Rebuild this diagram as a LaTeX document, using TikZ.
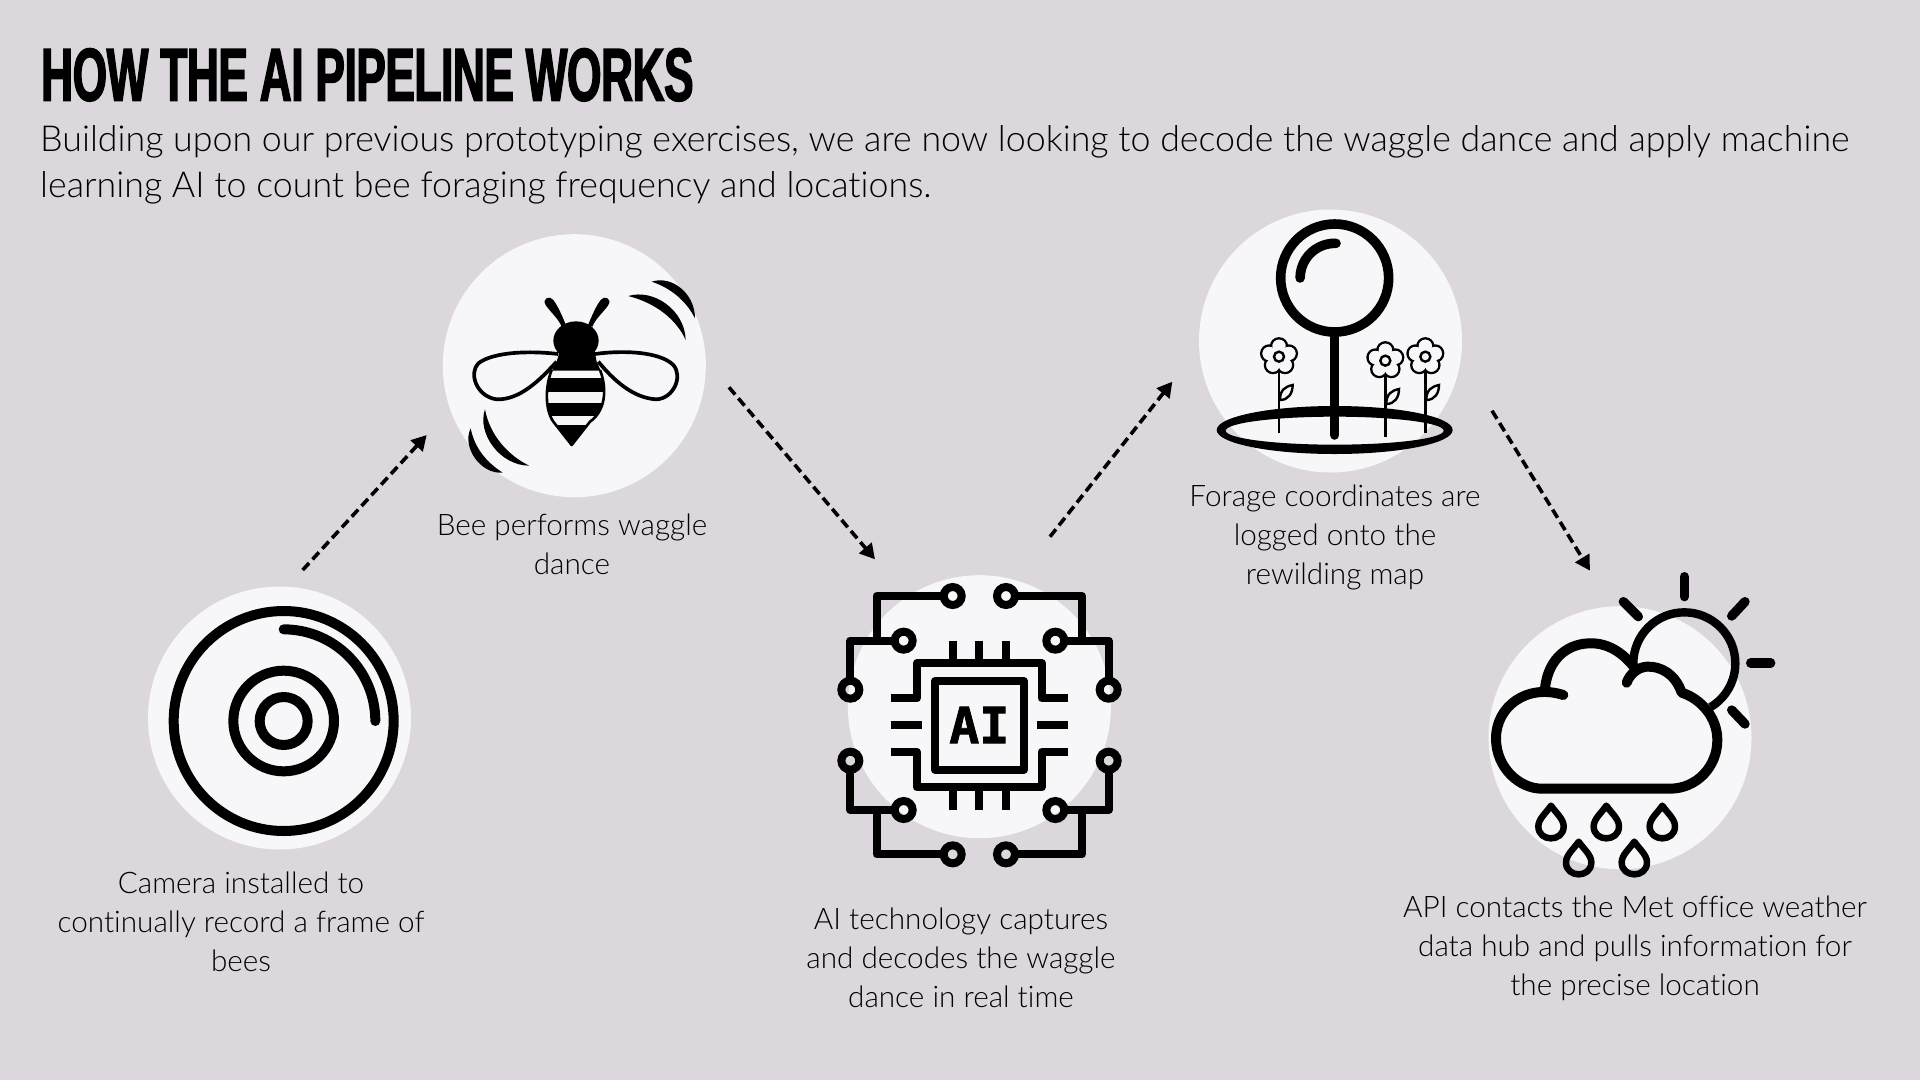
\documentclass[tikz,border=0pt]{standalone}
\usepackage{fontspec}
\usetikzlibrary{arrows.meta}
\setmainfont{Lato}[UprightFont=* Light,Ligatures=NoCommon]
\newfontfamily\titlefont[FakeStretch=0.59,FakeBold=1.8,LetterSpace=-0.6]{Liberation Sans Bold}
\newfontfamily\chipfont[FakeBold=1.5]{DejaVu Sans Mono Bold}
\definecolor{bgcol}{HTML}{DBD7DD}
\definecolor{disccol}{HTML}{F7F7F9}
\definecolor{inkcol}{HTML}{000000}
\newcommand\padAt[2]{%
  \draw[circ] (#1,#2) circle[radius=27];}
\newcommand\dropAt[2]{%
  \draw[line width=6.5pt,line join=round,draw=black,shift={(#1,#2)}]
    (0,10) .. controls (-15,32) and (-38,50) .. (-38,72)
    .. controls (-38,97) and (-18,108) .. (0,108)
    .. controls (18,108) and (38,97) .. (38,72)
    .. controls (38,50) and (15,32) .. (0,10) -- cycle;}
\newcommand\flowerAt[3]{%
  \begin{scope}[shift={(#1,#2)}]
    \draw[line width=2.4pt] (0,30) -- (0,#3);
    \foreach \a in {270,342,54,126,198}
      \draw[line width=2.4pt,fill=disccol] (\a:31) circle[radius=24];
    \foreach \a in {270,342,54,126,198}
      \fill[disccol] (\a:31) circle[radius=20];
    \fill[disccol] (0,0) circle[radius=25];
    \draw[line width=2.4pt] (0,0) circle[radius=15];
    \draw[line width=2.4pt] (3,130) .. controls (3,100) and (18,90) .. (41,85)
       .. controls (41,110) and (28,130) .. (3,130);
  \end{scope}}
\tikzset{
  disc/.style={circle,fill=disccol,inner sep=0pt,minimum size=263pt},
  flow/.style={line width=3.6pt,dash pattern=on 9.5pt off 5pt,-{Triangle[length=15pt,width=16pt]}},
  caption/.style={align=center,inner sep=0pt,anchor=center,font=\fontsize{29.7}{39}\selectfont,text=inkcol},
  circ/.style={line width=8pt},
  trace/.style={line width=8pt,line join=round},
  cring/.style={line width=10pt},
}
\begin{document}
\begin{tikzpicture}[x=1pt,y=-1pt]
\useasboundingbox (0,0) rectangle (1920,1080);
\fill[bgcol] (0,0) rectangle (1920,1080);

\node[anchor=base west,inner sep=0pt,font=\titlefont\fontsize{75}{75}\selectfont,text=black] (title) at (41,100.7) {HOW THE AI PIPELINE WORKS};
\node[anchor=west,inner sep=0pt,align=left,font=\fontsize{35.75}{46}\selectfont,text=inkcol] (intro) at (40,164.5) {Building upon our previous prototyping exercises, we are now looking to decode the waggle dance and apply machine\\learning AI to count bee foraging frequency and locations.};

\node[disc] (camdisc) at (279.5,718) {};
\node[disc] (beedisc) at (574.3,365.7) {};
\node[disc] (aidisc) at (979.4,706.7) {};
\node[disc] (mapdisc) at (1330.5,341) {};
\node[disc] (metdisc) at (1620,737.7) {};

% camera
\begin{scope}[shift={(130,570)},x=0.33333pt,y=-0.33333pt]
  \draw[cring] (461,453) circle[radius=330];
  \draw[cring] (461,453) circle[radius=151];
  \draw[cring] (461,453) circle[radius=72];
  \draw[cring,line cap=round] (461,178) arc[start angle=270,end angle=360,radius=275];
\end{scope}

% bee
\begin{scope}[shift={(430,220)},x=0.33333pt,y=-0.33333pt]
  \draw[line width=3.7pt,line join=round] (385,402) .. controls (300,392) and (190,395) .. (145,430) .. controls (115,460) and (140,530) .. (200,538) .. controls (270,540) and (330,480) .. (380,425);
  \draw[line width=3.7pt,line join=round] (495,402) .. controls (580,390) and (690,395) .. (730,435) .. controls (760,470) and (730,535) .. (680,538) .. controls (610,535) and (550,480) .. (505,425);
  \fill (395,320) .. controls (385,295) and (360,275) .. (347,255) .. controls (335,235) and (360,225) .. (370,240) .. controls (385,260) and (395,285) .. (408,315) -- cycle;
  \fill (487,320) .. controls (497,295) and (522,275) .. (535,255) .. controls (547,235) and (522,225) .. (512,240) .. controls (497,260) and (487,285) .. (474,315) -- cycle;
  \fill (438,362) ellipse[x radius=68,y radius=58];
  \fill (380,425) -- (395,375) -- (490,375) -- (500,425) -- (512,452) -- (366,452) -- cycle;
  \begin{scope}
    \clip (365,450) .. controls (345,500) and (345,570) .. (370,605) -- (425,675) -- (480,605) .. controls (530,570) and (530,500) .. (510,450) -- cycle;
    \fill (340,475) rectangle (540,515);
    \fill (340,548) rectangle (540,587);
    \fill (340,615) rectangle (540,680);
  \end{scope}
  \draw[line width=2.6pt,line join=round] (365,450) .. controls (345,500) and (345,570) .. (370,605) -- (425,675) -- (480,605) .. controls (530,570) and (530,500) .. (510,450);
  \fill (595,228) .. controls (670,205) and (765,270) .. (767,360) .. controls (740,300) and (680,250) .. (595,228) -- cycle;
  \fill (665,185) .. controls (725,165) and (795,220) .. (795,295) .. controls (770,245) and (725,205) .. (665,185) -- cycle;
  \fill (165,568) .. controls (140,640) and (210,737) .. (298,737) .. controls (240,710) and (180,650) .. (165,568) -- cycle;
  \fill (122,625) .. controls (95,680) and (150,763) .. (218,758) .. controls (175,730) and (135,690) .. (122,625) -- cycle;
\end{scope}

% AI chip
\begin{scope}[shift={(820,570)},x=0.33333pt,y=-0.33333pt]
  \draw[trace] (345,333) rectangle (611,599);
  \draw[trace] (212,385) -- (291,385) -- (291,279) -- (665,279) -- (665,385) -- (745,385);
  \draw[trace] (212,546) -- (291,546) -- (291,652) -- (665,652) -- (665,546) -- (745,546);
  \draw[trace] (212,466) -- (305,466);
  \draw[trace] (652,466) -- (745,466);
  \foreach \px in {398,478,558} {
    \draw[trace] (\px,212) -- (\px,279);
    \draw[trace] (\px,652) -- (\px,720);
  }
  \draw[trace] (372,78) -- (170,78) -- (170,212);
  \draw[trace] (225,212) -- (91,212) -- (91,333);
  \draw[trace] (585,78) -- (786,78) -- (786,212);
  \draw[trace] (732,212) -- (866,212) -- (866,333);
  \draw[trace] (91,598) -- (91,720) -- (225,720);
  \draw[trace] (170,720) -- (170,853) -- (372,853);
  \draw[trace] (866,598) -- (866,720) -- (732,720);
  \draw[trace] (786,720) -- (786,853) -- (585,853);
  \padAt{398}{78}\padAt{558}{78}\padAt{251}{212}\padAt{706}{212}
  \padAt{91}{359}\padAt{866}{359}\padAt{91}{572}\padAt{866}{572}
  \padAt{251}{720}\padAt{706}{720}\padAt{398}{853}\padAt{558}{853}
  \node[inner sep=0pt,font=\chipfont\fontsize{50}{50}\selectfont,text=black] (chiptext) at (478,465) {AI};
\end{scope}

% map pin and flowers
\begin{scope}[shift={(1190,200)},x=0.33333pt,y=-0.33333pt]
  \flowerAt{267}{470}{230}
  \flowerAt{586}{482}{228}
  \flowerAt{706}{470}{230}
  \fill[even odd rule] (434,690) ellipse[x radius=354,y radius=72] (434,692) ellipse[x radius=327,y radius=42];
  \draw[line width=9.6pt] (434,234) circle[radius=162];
  \draw[line width=9.6pt,line cap=round] (434,400) -- (434,705);
  \draw[line width=9.6pt,line cap=round] (438,130) arc[start angle=272,end angle=180,radius=104];
\end{scope}

% weather
\begin{scope}[shift={(1470,560)},x=0.33333pt,y=-0.33333pt]
  \draw[line width=8.4pt] (643,310) ++(180:153) arc[start angle=180,end angle=419,radius=153];
  \draw[line width=9.4pt,line cap=round] (643,50) -- (643,110);
  \draw[line width=9.4pt,line cap=round] (825,125) -- (785,168);
  \draw[line width=9.4pt,line cap=round] (842,309) -- (902,309);
  \draw[line width=9.4pt,line cap=round] (785,450) -- (825,492);
  \draw[line width=9.4pt,line cap=round] (460,125) -- (505,170);
  \draw[line width=10pt,line cap=round,line join=round] (280,405) .. controls (170,370) and (78,440) .. (78,535) .. controls (78,625) and (150,686) .. (215,686) -- (600,686) .. controls (680,686) and (742,620) .. (742,540) .. controls (742,470) and (690,415) .. (635,398) .. controls (615,340) and (570,318) .. (530,320) .. controls (505,322) and (480,340) .. (470,368);
  \draw[line width=10pt] (225,385) .. controls (235,290) and (300,248) .. (365,250) .. controls (420,250) and (465,285) .. (495,325);
  \dropAt{243}{727}\dropAt{409}{727}\dropAt{577}{727}\dropAt{326}{835}\dropAt{493}{835}
\end{scope}

\coordinate (a1s) at (302.7,570);
\coordinate (a1e) at (426.7,435);
\coordinate (a2s) at (729,387.3);
\coordinate (a2e) at (875,559.3);
\coordinate (a3s) at (1050,536.7);
\coordinate (a3e) at (1172.3,381.7);
\coordinate (a4s) at (1492,410.7);
\coordinate (a4e) at (1590,570.7);
\draw[flow] (a1s) -- (a1e);
\draw[flow] (a2s) -- (a2e);
\draw[flow] (a3s) -- (a3e);
\draw[flow] (a4s) -- (a4e);

\node[caption] (camtext) at (241,922) {Camera installed to\\continually record a frame of\\bees};
\node[caption] (beetext) at (572,544) {Bee performs waggle\\dance};
\node[caption] (aitext) at (961,958) {AI technology captures\\and decodes the waggle\\dance in real time};
\node[caption] (maptext) at (1335,537.5) {Forage coordinates are\\logged onto the\\rewilding map};
\node[caption] (mettext) at (1635,948.5) {API contacts the Met office weather\\data hub and pulls information for\\the precise location};
\end{tikzpicture}
\end{document}
